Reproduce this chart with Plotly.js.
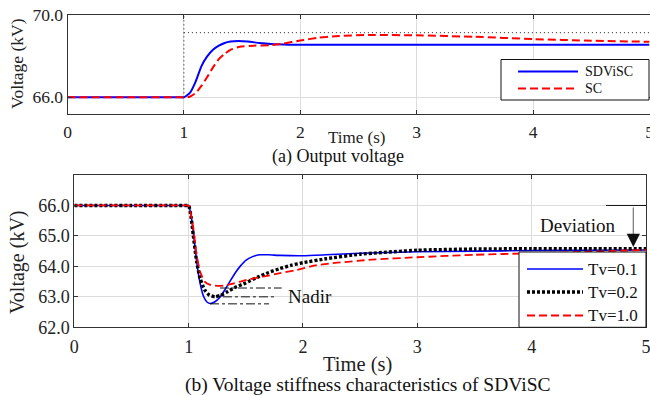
<!DOCTYPE html>
<html>
<head>
<meta charset="utf-8">
<script src="https://cdn.plot.ly/plotly-3.0.1.min.js"></script>
<style>html,body{margin:0;padding:0;background:#fff;}#chart{width:650px;height:396px;}</style>
</head>
<body>
<div id="chart"></div>
<script>
// ---------- Data ----------
// (a) Output voltage
const tA_sdvisc = [0, 0.5, 0.9, 0.97, 1.0, 1.05, 1.1, 1.15, 1.2, 1.25, 1.3, 1.35, 1.4, 1.47, 1.55, 1.65, 1.75, 1.9, 2.1, 3.0, 4.0, 5.0];
const vA_sdvisc = [66, 66, 66, 66, 66, 66.2, 66.75, 67.5, 67.98, 68.3, 68.5, 68.63, 68.7, 68.73, 68.7, 68.63, 68.58, 68.55, 68.55, 68.55, 68.55, 68.55];
const tA_sc = [0, 0.5, 0.9, 0.97, 1.0, 1.05, 1.1, 1.15, 1.2, 1.25, 1.3, 1.35, 1.4, 1.48, 1.6, 1.75, 1.85, 2.0, 2.15, 2.3, 2.6, 3.0, 3.5, 4.0, 4.5, 5.0];
const vA_sc = [66, 66, 66, 66, 66, 66.03, 66.2, 66.55, 66.98, 67.45, 67.85, 68.1, 68.3, 68.45, 68.5, 68.53, 68.6, 68.75, 68.88, 68.96, 69.02, 69.0, 68.93, 68.82, 68.74, 68.69];
const refA_vt = [1, 1];
const refA_vv = [66, 70];
const refA_ht = [1, 5];
const refA_hv = [69.13, 69.13];

// (b) Voltage stiffness characteristics of SDViSC
const tB_01 = [0, 0.5, 0.9, 0.98, 1.0, 1.02, 1.04, 1.07, 1.10, 1.13, 1.16, 1.19, 1.23, 1.27, 1.32, 1.36, 1.41, 1.45, 1.5, 1.56, 1.62, 1.7, 1.8, 2.0, 2.2, 2.5, 3.0, 3.5, 4.0, 4.5, 5.0];
const vB_01 = [66, 66, 66, 66, 66, 65.7, 65.15, 64.16, 63.45, 63.02, 62.83, 62.78, 62.84, 62.97, 63.25, 63.5, 63.8, 64.0, 64.2, 64.32, 64.38, 64.38, 64.36, 64.35, 64.38, 64.43, 64.48, 64.5, 64.52, 64.53, 64.54];
const tB_02 = [0, 0.5, 0.9, 0.98, 1.0, 1.02, 1.04, 1.07, 1.10, 1.14, 1.18, 1.23, 1.28, 1.33, 1.4, 1.5, 1.6, 1.7, 1.8, 1.9, 2.0, 2.2, 2.5, 3.0, 3.5, 4.0, 4.5, 5.0];
const vB_02 = [66, 66, 66, 66, 66, 65.65, 65.04, 64.16, 63.61, 63.23, 63.06, 63.0, 63.05, 63.15, 63.3, 63.46, 63.64, 63.8, 63.93, 64.04, 64.12, 64.25, 64.4, 64.53, 64.57, 64.58, 64.58, 64.58];
const tB_10 = [0, 0.5, 0.9, 0.98, 1.0, 1.02, 1.04, 1.07, 1.10, 1.14, 1.19, 1.23, 1.27, 1.31, 1.36, 1.45, 1.51, 1.65, 1.8, 1.94, 2.12, 2.3, 2.6, 3.0, 3.5, 4.0, 4.5, 5.0];
const vB_10 = [66, 66, 66, 66, 66, 65.7, 65.27, 64.38, 63.83, 63.5, 63.39, 63.37, 63.36, 63.37, 63.41, 63.5, 63.56, 63.66, 63.78, 63.88, 64.04, 64.12, 64.22, 64.3, 64.38, 64.43, 64.48, 64.54];

const xTicks = [0, 1, 2, 3, 4, 5];
const yTicksA = [66, 70];
const yTicksB = [62, 63, 64, 65, 66];
const namesA = ['SDViSC', 'SC'];
const namesB = ['Tv=0.1', 'Tv=0.2', 'Tv=1.0'];

// ---------- Styles ----------
const W = 650, H = 396;
const PX = p => p / W;
const PY = p => 1 - p / H;
const FONT = 'Liberation Serif';
const styleA = [
  {color: '#0000ff', width: 2, dash: 'solid'},
  {color: '#ff0000', width: 2, dash: '8px,4px'}
];
const styleB = [
  {color: '#0000ff', width: 1.6, dash: 'solid'},
  {color: '#000000', width: 3.4, dash: '3px,2px'},
  {color: '#ff0000', width: 1.8, dash: '8px,4px'}
];

const traces = [
  {x: refA_vt, y: refA_vv, xaxis: 'x', yaxis: 'y', mode: 'lines', showlegend: false, hoverinfo: 'skip',
   line: {color: '#222', width: 1, dash: '1px,3px'}},
  {x: refA_ht, y: refA_hv, xaxis: 'x', yaxis: 'y', mode: 'lines', showlegend: false, hoverinfo: 'skip',
   line: {color: '#222', width: 1, dash: '1px,3px'}},
  {x: tA_sdvisc, y: vA_sdvisc, name: namesA[0], xaxis: 'x', yaxis: 'y', mode: 'lines', showlegend: false,
   line: Object.assign({shape: 'spline', smoothing: 0.5}, styleA[0])},
  {x: tA_sc, y: vA_sc, name: namesA[1], xaxis: 'x', yaxis: 'y', mode: 'lines', showlegend: false,
   line: Object.assign({shape: 'spline', smoothing: 0.5}, styleA[1])},
  {x: tB_01, y: vB_01, name: namesB[0], xaxis: 'x2', yaxis: 'y2', mode: 'lines', showlegend: false,
   line: Object.assign({shape: 'spline', smoothing: 0.5}, styleB[0])},
  {x: tB_02, y: vB_02, name: namesB[1], xaxis: 'x2', yaxis: 'y2', mode: 'lines', showlegend: false,
   line: Object.assign({shape: 'spline', smoothing: 0.5}, styleB[1])},
  {x: tB_10, y: vB_10, name: namesB[2], xaxis: 'x2', yaxis: 'y2', mode: 'lines', showlegend: false,
   line: Object.assign({shape: 'spline', smoothing: 0.5}, styleB[2])}
];

const axisCommon = {
  showline: true, mirror: 'ticks', linecolor: '#333', linewidth: 1,
  ticks: 'inside', ticklen: 4, tickcolor: '#333',
  showgrid: true, gridcolor: '#dcdcdc', gridwidth: 1,
  zeroline: false, automargin: false, fixedrange: true, ticklabeloverflow: 'allow'
};

const shapes = [
  // Nadir markers (dash-dot)
  {type: 'line', xref: 'x2', yref: 'y2', x0: 1.274, x1: 1.814, y0: 63.29, y1: 63.29, line: {color: '#111', width: 1, dash: 'dashdot'}},
  {type: 'line', xref: 'x2', yref: 'y2', x0: 1.30, x1: 1.77, y0: 63.0, y1: 63.0, line: {color: '#111', width: 1, dash: 'dashdot'}},
  {type: 'line', xref: 'x2', yref: 'y2', x0: 1.187, x1: 1.703, y0: 62.77, y1: 62.77, line: {color: '#111', width: 1, dash: 'dashdot'}},
  // Deviation marker
  {type: 'line', xref: 'x2', yref: 'y2', x0: 4.65, x1: 5.0, y0: 66.0, y1: 66.0, line: {color: '#111', width: 1}},
  {type: 'line', xref: 'x2', yref: 'y2', x0: 4.889, x1: 4.889, y0: 65.93, y1: 64.9, line: {color: '#777', width: 1.2}},
  // Legend (a) box
  {type: 'rect', xref: 'paper', yref: 'paper', x0: PX(501), x1: PX(649), y0: PY(100), y1: PY(59.5), fillcolor: '#fff', line: {color: '#111', width: 1}},
  // Legend (b) box
  {type: 'rect', xref: 'paper', yref: 'paper', x0: PX(519), x1: PX(646), y0: PY(327.3), y1: PY(252), fillcolor: '#fff', line: {color: '#111', width: 1}}
];
const legAy = [71.5, 88.5];
namesA.forEach((n, i) => shapes.push({type: 'line', xref: 'paper', yref: 'paper', x0: PX(518), x1: PX(578), y0: PY(legAy[i]), y1: PY(legAy[i]), line: styleA[i]}));
const legBy = [269, 292, 315.5];
namesB.forEach((n, i) => shapes.push({type: 'line', xref: 'paper', yref: 'paper', x0: PX(527), x1: PX(583), y0: PY(legBy[i]), y1: PY(legBy[i]), line: styleB[i]}));

const annotations = [
  {xref: 'paper', yref: 'paper', x: PX(17), y: PY(64), text: 'Voltage (kV)', textangle: -90, showarrow: false,
   font: {size: 17.5, family: FONT, color: '#222'}, xanchor: 'center', yanchor: 'middle'},
  {xref: 'paper', yref: 'paper', x: PX(356), y: PY(137.5), text: 'Time (s)', showarrow: false,
   font: {size: 17, family: FONT, color: '#222'}, xanchor: 'center', yanchor: 'middle'},
  {xref: 'paper', yref: 'paper', x: PX(338), y: PY(157), text: '(a) Output voltage', showarrow: false,
   font: {size: 18, family: FONT, color: '#111'}, xanchor: 'center', yanchor: 'middle'},
  {xref: 'paper', yref: 'paper', x: PX(17), y: PY(262), text: 'Voltage (kV)', textangle: -90, showarrow: false,
   font: {size: 20, family: FONT, color: '#222'}, xanchor: 'center', yanchor: 'middle'},
  {xref: 'paper', yref: 'paper', x: PX(357), y: PY(364), text: 'Time (s)', showarrow: false,
   font: {size: 20.5, family: FONT, color: '#222'}, xanchor: 'center', yanchor: 'middle'},
  {xref: 'paper', yref: 'paper', x: PX(367), y: PY(385), text: '(b) Voltage stiffness characteristics of SDViSC', showarrow: false,
   font: {size: 19.5, family: FONT, color: '#111'}, xanchor: 'center', yanchor: 'middle'},
  {xref: 'x2', yref: 'y2', x: 1.85, y: 63.0, text: 'Nadir', showarrow: false, xanchor: 'left', yanchor: 'middle',
   font: {size: 19, family: FONT, color: '#111'}},
  {xref: 'x2', yref: 'y2', x: 4.405, y: 65.34, text: 'Deviation', showarrow: false, xanchor: 'center', yanchor: 'middle',
   font: {size: 19, family: FONT, color: '#111'}},
  {xref: 'x2', yref: 'y2', axref: 'x2', ayref: 'y2', x: 4.889, y: 64.64, ax: 4.889, ay: 65.0, text: '',
   showarrow: true, arrowhead: 2, arrowsize: 2.2, arrowwidth: 1.2, arrowcolor: '#111'}
];
namesA.forEach((n, i) => annotations.push({xref: 'paper', yref: 'paper', x: PX(583), y: PY(legAy[i]), text: n, showarrow: false,
  xanchor: 'left', yanchor: 'middle', font: {size: 14, family: FONT, color: '#111'}}));
namesB.forEach((n, i) => annotations.push({xref: 'paper', yref: 'paper', x: PX(586), y: PY(legBy[i]), text: n, showarrow: false,
  xanchor: 'left', yanchor: 'middle', font: {size: 17, family: FONT, color: '#111'}}));

const layout = {
  width: W, height: H, autosize: false,
  margin: {l: 0, r: 0, t: 0, b: 0, pad: 0},
  paper_bgcolor: '#fff', plot_bgcolor: '#fff',
  font: {family: FONT, color: '#222'},
  showlegend: false,
  xaxis: Object.assign({}, axisCommon, {
    domain: [PX(67.5), PX(649.5)], range: [0, 5], anchor: 'y',
    tickvals: xTicks, ticktext: xTicks.map(String), tickfont: {size: 17.5, family: FONT, color: '#222'},
    ticklabelstandoff: 2
  }),
  yaxis: Object.assign({}, axisCommon, {
    domain: [PY(114.3), PY(14.7)], range: [65.177, 70], anchor: 'x',
    tickvals: yTicksA, ticktext: yTicksA.map(v => v.toFixed(1)), tickfont: {size: 17.5, family: FONT, color: '#222'}
  }),
  xaxis2: Object.assign({}, axisCommon, {
    domain: [PX(74.3), PX(646)], range: [0, 5], anchor: 'y2',
    tickvals: xTicks, ticktext: xTicks.map(String), tickfont: {size: 18, family: FONT, color: '#222'},
    ticklabelstandoff: 3
  }),
  yaxis2: Object.assign({}, axisCommon, {
    domain: [PY(327.3), PY(175)], range: [62, 67], anchor: 'x2',
    tickvals: yTicksB, ticktext: yTicksB.map(v => v.toFixed(1)), tickfont: {size: 18, family: FONT, color: '#222'}
  }),
  shapes: shapes,
  annotations: annotations
};

Plotly.newPlot('chart', traces, layout, {staticPlot: true, displayModeBar: false});
</script>
</body>
</html>
